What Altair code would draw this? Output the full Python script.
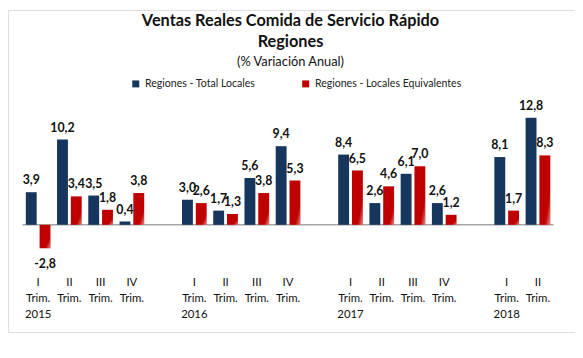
import altair as alt
import pandas as pd

# ---- data ----
periods = ["I", "II", "III", "IV", "I", "II", "III", "IV", "I", "II", "III", "IV", "I", "II"]
years = ["2015"] * 4 + ["2016"] * 4 + ["2017"] * 4 + ["2018"] * 2
total_locales = [3.9, 10.2, 3.5, 0.4, 3.0, 1.7, 5.6, 9.4, 8.4, 2.6, 6.1, 2.6, 8.1, 12.8]
locales_equiv = [-2.8, 3.4, 1.8, 3.8, 2.6, 1.3, 3.8, 5.3, 6.5, 4.6, 7.0, 1.2, 1.7, 8.3]
series_names = ["Regiones - Total Locales", "Regiones - Locales Equivalentes"]
series_colors = ["#17365D", "#C00000"]

title_lines = ["Ventas Reales Comida de Servicio Rápido", "Regiones"]
subtitle_text = "(% Variación Anual)"

# ---- build table ----
slots = []
rows = []
for i, (yr, q) in enumerate(zip(years, periods)):
    if i > 0 and years[i - 1] != yr:
        slots.append("gap" + yr)
    key = yr + "-" + q
    slots.append(key)
    rows.append({"slot": key, "serie": series_names[0], "valor": total_locales[i]})
    rows.append({"slot": key, "serie": series_names[1], "valor": locales_equiv[i]})
df = pd.DataFrame(rows)

W, H = 574, 326
FONT = "Lato"

x_enc = alt.X(
    "slot:N",
    sort=slots,
    scale=alt.Scale(domain=slots, range=[14.7, 552.3], paddingInner=0.21, paddingOuter=0.105),
    axis=alt.Axis(
        title=None,
        orient="bottom",
        offset=-61,
        domain=False,
        ticks=False,
        labelAngle=0,
        labelAlign="center",
        labelBaseline="top",
        labelLineHeight=16,
        labelFontSize=11.5,
        labelFont=FONT,
        labelColor="#111111",
        labelOverlap=False,
        labelPadding=5,
        labelExpr="indexof(datum.value,'gap')>=0 ? '' : [split(datum.value,'-')[1], 'Trim.', split(datum.value,'-')[1]=='I' ? split(datum.value,'-')[0] : '']",
    ),
)
xoff_enc = alt.XOffset("serie:N", sort=series_names,
                       scale=alt.Scale(domain=series_names, paddingInner=0.21, paddingOuter=0))
y_scale = alt.Scale(domain=[-5, 15], range=[259.85, 90.45], nice=False, zero=False)
y_enc = alt.Y("valor:Q", scale=y_scale, axis=None)

base = alt.Chart(df).transform_calculate(
    etiqueta="replace(replace(format(datum.valor, '.1f'), '.', ','), '\u2212', '-')"
)

bars = base.mark_bar().encode(
    x=x_enc,
    xOffset=xoff_enc,
    y=y_enc,
    color=alt.Color(
        "serie:N",
        scale=alt.Scale(domain=series_names, range=series_colors),
        legend=alt.Legend(
            title=None,
            orient="none",
            legendX=124,
            legendY=69,
            direction="horizontal",
            symbolType="square",
            symbolSize=50,
            symbolStrokeWidth=0,
            labelFont=FONT,
            labelFontSize=10.7,
            labelColor="#222222",
            labelLimit=300,
            columnPadding=45,
            padding=0,
        ),
    ),
)

shade = base.transform_filter(alt.datum.serie == series_names[1]).mark_bar(
    fill=alt.Gradient(
        gradient="linear",
        x1=0, y1=0, x2=1, y2=1,
        stops=[
            alt.GradientStop(offset=0, color="rgba(255,255,255,0)"),
            alt.GradientStop(offset=0.75, color="rgba(255,255,255,0)"),
            alt.GradientStop(offset=1, color="rgba(255,255,255,0.55)"),
        ],
    )
).encode(x=x_enc, xOffset=xoff_enc, y=y_enc)

zero_rule = alt.Chart(pd.DataFrame({"cero": [0]})).mark_rule(color="#A6A6A6", strokeWidth=1.5).encode(
    y=alt.Y("cero:Q", scale=y_scale, axis=None),
    x=alt.value(14.7),
    x2=alt.value(552.3),
)

lab_pos = base.transform_filter(alt.datum.valor >= 0).mark_text(
    baseline="bottom", dy=-5, fontWeight="bold", fontSize=12.5, font=FONT, color="#111111"
).encode(x=x_enc, xOffset=xoff_enc, y=y_enc, text="etiqueta:N")

lab_neg = base.transform_filter(alt.datum.valor < 0).mark_text(
    baseline="top", dy=10, fontWeight="bold", fontSize=12.5, font=FONT, color="#111111"
).encode(x=x_enc, xOffset=xoff_enc, y=y_enc, text="etiqueta:N")

chart = alt.layer(zero_rule, bars, shade, lab_pos, lab_neg).properties(
    width=W,
    height=H,
    padding=0,
    autosize=alt.AutoSizeParams(type="none"),
    title=alt.TitleParams(
        text=title_lines,
        subtitle=subtitle_text,
        font=FONT,
        fontSize=16.5,
        fontWeight="bold",
        lineHeight=21,
        color="#111111",
        subtitleFont=FONT,
        subtitleFontSize=13,
        subtitleColor="#111111",
        subtitlePadding=6,
        anchor="middle",
        frame="group",
        offset=-60,
        dx=-1,
    ),
).configure_view(stroke="#8C8C8C", strokeWidth=1.5).configure(background="white")

chart.save("out.html", embed_options={"renderer": "svg", "actions": False})
